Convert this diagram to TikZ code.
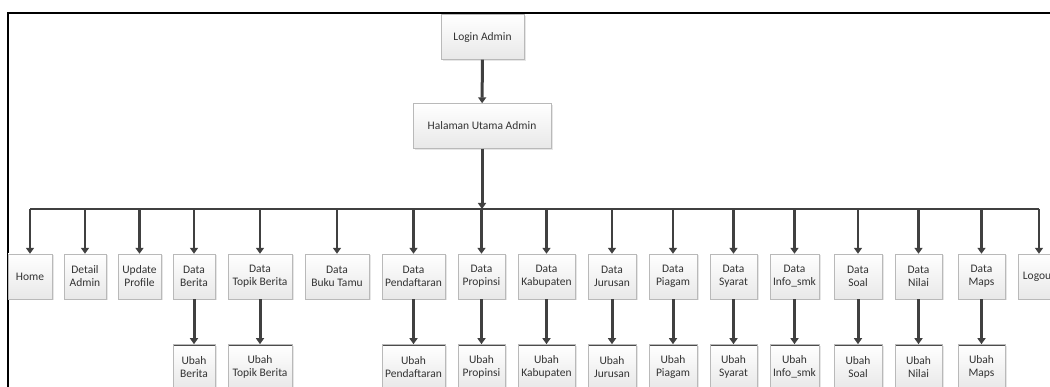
\documentclass[tikz,border=0pt]{standalone}
\usepackage{fontspec}
\setmainfont{Carlito}
\usetikzlibrary{arrows.meta,positioning,shadows}

\tikzset{
  menubox/.style={draw=gray!55, top color=white, bottom color=gray!18, text=black!80,
    align=center, inner sep=1pt, minimum height=45pt, font=\fontsize{11.5}{13}\selectfont,
    drop shadow={opacity=0.2, shadow xshift=1.5pt, shadow yshift=-1.5pt}},
  subbox/.style={menubox, path picture={\draw[line width=3pt, black!70]
    (path picture bounding box.north west) -- (path picture bounding box.north east);}},
  flow/.style={-{Triangle[length=6pt,width=8pt]}, line width=2.5pt, draw=black!75},
  busline/.style={line width=1.5pt, draw=black!75},
}

\begin{document}
\begin{tikzpicture}[x=1pt, y=-1pt]
    \useasboundingbox (0,0) rectangle (1050,387);
    \clip (0,0) rectangle (1050,387);
    % frame
    \draw[line width=2pt] (8,390) -- (8,13) -- (1052,13);
    % top of the menu
    \node[menubox, minimum width=83pt] (login) at (482.5,37) {Login Admin};
    \node[menubox, minimum width=138pt] (halaman) at (482,126) {Halaman Utama Admin};
    \coordinate (bus) at (482,209);
    % first row
    \node[menubox, minimum width=44pt] (home) at (30,276.5) {Home};
    \node[menubox, minimum width=42pt] (detail) at (85,276.5) {Detail\\Admin};
    \node[menubox, minimum width=43pt] (update) at (139.5,276.5) {Update\\Profile};
    \node[menubox, minimum width=42pt] (berita) at (194,276.5) {Data\\Berita};
    \node[menubox, minimum width=64pt] (topik) at (260,276.5) {Data\\Topik Berita};
    \node[menubox, minimum width=64pt] (bukutamu) at (337,276.5) {Data\\Buku Tamu};
    \node[menubox, minimum width=63pt] (pendaftaran) at (413.5,276.5) {Data\\Pendaftaran};
    \node[menubox, minimum width=47pt] (propinsi) at (481.5,276.5) {Data\\Propinsi};
    \node[menubox, minimum width=57pt] (kabupaten) at (546.5,276.5) {Data\\Kabupaten};
    \node[menubox, minimum width=48pt] (jurusan) at (612,276.5) {Data\\Jurusan};
    \node[menubox, minimum width=48pt] (piagam) at (673,276.5) {Data\\Piagam};
    \node[menubox, minimum width=47pt] (syarat) at (733.5,276.5) {Data\\Syarat};
    \node[menubox, minimum width=49pt] (infosmk) at (794.5,276.5) {Data\\Info\_smk};
    \node[menubox, minimum width=48pt] (soal) at (858,276.5) {Data\\Soal};
    \node[menubox, minimum width=47pt] (nilai) at (918.5,276.5) {Data\\Nilai};
    \node[menubox, minimum width=47pt] (maps) at (981.5,276.5) {Data\\Maps};
    \node[menubox, minimum width=42pt] (logout) at (1039,276.5) {Logout};
    % second row
    \node[subbox, minimum width=42pt, below=45pt of berita] (ubahberita) {Ubah\\Berita};
    \node[subbox, minimum width=64pt, below=45pt of topik] (ubahtopik) {Ubah\\Topik Berita};
    \node[subbox, minimum width=63pt, below=45pt of pendaftaran] (ubahpendaftaran) {Ubah\\Pendaftaran};
    \node[subbox, minimum width=47pt, below=45pt of propinsi] (ubahpropinsi) {Ubah\\Propinsi};
    \node[subbox, minimum width=57pt, below=45pt of kabupaten] (ubahkabupaten) {Ubah\\Kabupaten};
    \node[subbox, minimum width=48pt, below=45pt of jurusan] (ubahjurusan) {Ubah\\Jurusan};
    \node[subbox, minimum width=48pt, below=45pt of piagam] (ubahpiagam) {Ubah\\Piagam};
    \node[subbox, minimum width=47pt, below=45pt of syarat] (ubahsyarat) {Ubah\\Syarat};
    \node[subbox, minimum width=49pt, below=45pt of infosmk] (ubahinfosmk) {Ubah\\Info\_smk};
    \node[subbox, minimum width=48pt, below=45pt of soal] (ubahsoal) {Ubah\\Soal};
    \node[subbox, minimum width=47pt, below=45pt of nilai] (ubahnilai) {Ubah\\Nilai};
    \node[subbox, minimum width=47pt, below=45pt of maps] (ubahmaps) {Ubah\\Maps};
    % connectors
    \draw[flow, line width=3pt] (login) -- (halaman);
    \draw[flow, line width=3pt] (halaman) -- (bus);
    \draw[busline] (bus -| home) -- (bus -| logout);
    \draw[flow] (bus -| home) -- (home);
    \draw[flow] (bus -| detail) -- (detail);
    \draw[flow] (bus -| update) -- (update);
    \draw[flow] (bus -| berita) -- (berita);
    \draw[flow] (bus -| topik) -- (topik);
    \draw[flow] (bus -| bukutamu) -- (bukutamu);
    \draw[flow] (bus -| pendaftaran) -- (pendaftaran);
    \draw[flow] (bus -| propinsi) -- (propinsi);
    \draw[flow] (bus -| kabupaten) -- (kabupaten);
    \draw[flow] (bus -| jurusan) -- (jurusan);
    \draw[flow] (bus -| piagam) -- (piagam);
    \draw[flow] (bus -| syarat) -- (syarat);
    \draw[flow] (bus -| infosmk) -- (infosmk);
    \draw[flow] (bus -| soal) -- (soal);
    \draw[flow] (bus -| nilai) -- (nilai);
    \draw[flow] (bus -| maps) -- (maps);
    \draw[flow] (bus -| logout) -- (logout);
    \draw[flow, line width=3pt] (berita) -- (ubahberita);
    \draw[flow, line width=3pt] (topik) -- (ubahtopik);
    \draw[flow, line width=3pt] (pendaftaran) -- (ubahpendaftaran);
    \draw[flow, line width=3pt] (propinsi) -- (ubahpropinsi);
    \draw[flow, line width=3pt] (kabupaten) -- (ubahkabupaten);
    \draw[flow, line width=3pt] (jurusan) -- (ubahjurusan);
    \draw[flow, line width=3pt] (piagam) -- (ubahpiagam);
    \draw[flow, line width=3pt] (syarat) -- (ubahsyarat);
    \draw[flow, line width=3pt] (infosmk) -- (ubahinfosmk);
    \draw[flow, line width=3pt] (soal) -- (ubahsoal);
    \draw[flow, line width=3pt] (nilai) -- (ubahnilai);
    \draw[flow, line width=3pt] (maps) -- (ubahmaps);
\end{tikzpicture}
\end{document}
